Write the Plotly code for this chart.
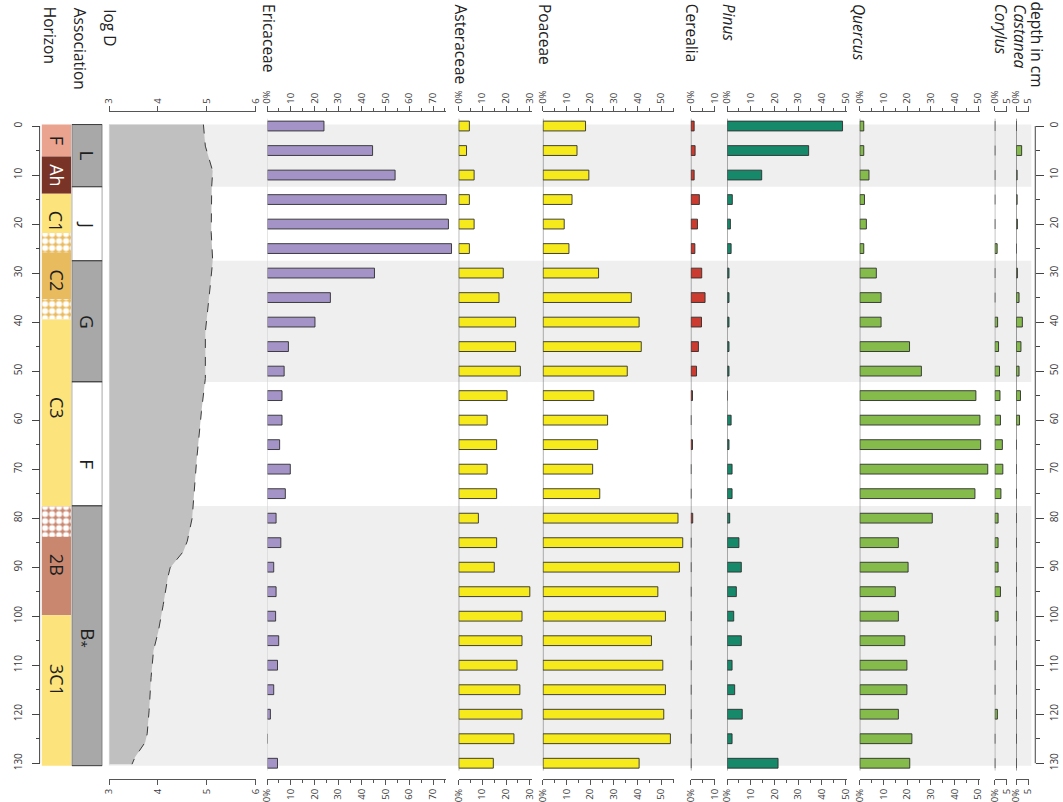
import plotly.graph_objects as go

# ---------------------------------------------------------------- data
depth = [0, 5, 10, 15, 20, 25, 30, 35, 40, 45, 50, 55, 60, 65, 70,
         75, 80, 85, 90, 95, 100, 105, 110, 115, 120, 125, 130]

ericaceae = [24.0, 44.5, 54.0, 75.6, 76.5, 77.8, 45.3, 26.7, 20.2, 9.0, 7.2, 6.3, 6.3, 5.3,
             9.8, 7.7, 3.8, 5.8, 2.8, 3.8, 3.6, 4.9, 4.4, 2.8, 1.4, 0.0, 4.4]
asteraceae = [4.5, 3.3, 6.5, 4.5, 6.5, 4.5, 18.8, 17.0, 24.0, 24.0, 26.0, 20.4, 12.0, 16.0,
              12.0, 16.0, 8.3, 16.0, 15.0, 30.0, 26.7, 26.7, 24.6, 25.8, 26.7, 23.3, 14.6]
poaceae = [18.0, 14.4, 19.4, 12.3, 9.0, 11.0, 23.5, 37.3, 40.6, 41.5, 35.6, 21.5, 27.3, 23.1,
           21.0, 24.0, 57.0, 59.0, 57.6, 48.5, 51.7, 45.8, 50.6, 51.7, 51.0, 53.8, 40.6]
cerealia = [1.4, 1.8, 1.4, 3.6, 2.8, 1.7, 4.6, 6.0, 4.5, 3.2, 2.4, 0.7, 0.0, 0.7,
            0.0, 0.0, 0.8, 0.0, 0.0, 0.0, 0.0, 0.0, 0.0, 0.0, 0.0, 0.0, 0.0]
pinus = [48.7, 34.4, 14.6, 2.2, 1.4, 1.7, 0.8, 0.8, 0.8, 0.8, 0.8, 0.0, 1.7, 0.8,
         2.1, 2.1, 1.1, 5.0, 6.0, 3.9, 2.8, 6.0, 2.1, 3.2, 6.4, 2.1, 21.5]
quercus = [1.7, 1.7, 3.9, 2.0, 2.8, 1.7, 7.0, 9.0, 9.0, 21.0, 26.0, 49.0, 50.7, 51.0,
           54.0, 48.6, 30.6, 16.3, 20.4, 15.0, 16.3, 19.0, 19.9, 19.9, 16.3, 22.0, 21.1]
corylus = [0.0, 0.0, 0.0, 0.0, 0.0, 1.0, 0.0, 0.0, 1.2, 1.6, 2.0, 2.2, 2.4, 3.2,
           3.4, 2.6, 1.4, 1.4, 1.4, 2.4, 1.4, 0.0, 0.0, 0.0, 1.1, 0.0, 0.0]
castanea = [0.0, 2.3, 0.4, 0.4, 0.5, 0.0, 0.5, 1.2, 2.6, 2.0, 1.2, 1.8, 1.4, 0.0,
            0.0, 0.0, 0.0, 0.0, 0.0, 0.0, 0.0, 0.0, 0.0, 0.0, 0.0, 0.0, 0.0]

logd_depth = [-0.3, 4.1, 9.2, 12.3, 21.7, 27.5, 32.6, 37.9, 42.0, 51.5, 58.2, 68.4, 73.2,
              80.0, 84.7, 86.8, 90.1, 92.2, 97.6, 103.0, 107.0, 112.5, 119.2, 124.0,
              125.7, 128.8, 130.2]
logd_value = [4.93, 4.97, 5.12, 5.10, 5.09, 5.12, 5.07, 5.01, 4.97, 4.97, 4.89, 4.79, 4.75,
              4.70, 4.60, 4.52, 4.25, 4.20, 4.11, 4.01, 3.91, 3.86, 3.82, 3.78,
              3.74, 3.53, 3.47]

horizon_names = ["F", "Ah", "C1", "C2", "C3", "2B", "3C1"]
horizon_top = [-0.3, 6.2, 13.8, 21.8, 39.4, 77.6, 99.8]
horizon_bottom = [6.2, 13.8, 21.8, 39.4, 77.6, 99.8, 130.5]
horizon_label_depth = [3.0, 10.0, 19.5, 31.5, 57.5, 89.5, 113.0]
stone_top = [21.8, 35.3, 77.6]
stone_bottom = [25.8, 39.4, 83.8]

assoc_names = ["L", "J", "G", "F", "B<sub>*</sub>"]
assoc_top = [-0.3, 12.4, 27.5, 52.2, 77.5]
assoc_bottom = [12.4, 27.5, 52.2, 77.5, 130.5]
assoc_label_depth = [6.0, 20.0, 40.0, 69.0, 104.5]
assoc_grey = [True, False, True, False, True]

# ---------------------------------------------------------------- geometry helpers
W, H = 1063, 802
FONT = "Open Sans"


def fx(p):
    return p / W


def fy(p):
    return 1 - p / H


Y_TOP_PX, Y_BOT_PX = 112, 782
D0_PX, PX_PER_CM = 126.5, 4.92
depth_range = [(Y_BOT_PX - D0_PX) / PX_PER_CM, (Y_TOP_PX - D0_PX) / PX_PER_CM]
ydom = [fy(Y_BOT_PX), fy(Y_TOP_PX)]
PX_PER_PCT = 2.4
TICK_ANGLE = -90

fig = go.Figure()
layout = {}
shapes = []
annotations = []
_n = [0]


def new_x(dom_px, rng, **kw):
    _n[0] += 1
    n = _n[0]
    key = "xaxis" if n == 1 else f"xaxis{n}"
    ref = "x" if n == 1 else f"x{n}"
    d = dict(domain=[fx(dom_px[0]), fx(dom_px[1])], range=rng, anchor="y",
             fixedrange=True, showgrid=False, zeroline=False)
    d.update(kw)
    layout[key] = d
    return ref


def hidden_x(dom_px, rng):
    return new_x(dom_px, rng, visible=False)


AX_COL = "#555555"


def scale_axes(dom_px, rng, tickvals, ticktext, minor_dtick=None):
    for side in ("top", "bottom"):
        kw = dict(side=side, showline=True, linecolor=AX_COL, linewidth=1,
                  ticks="outside", ticklen=5, tickcolor=AX_COL, tickwidth=1,
                  tickmode="array", tickvals=tickvals, ticktext=ticktext,
                  tickangle=TICK_ANGLE, tickfont=dict(size=9.5, color="#3a3a3a", family=FONT))
        if minor_dtick:
            kw["minor"] = dict(ticks="outside", ticklen=3, tickcolor=AX_COL,
                               tickmode="linear", tick0=0, dtick=minor_dtick)
        ref = new_x(dom_px, rng, **kw)
        fig.add_trace(go.Scatter(x=[], y=[], xaxis=ref, yaxis="y",
                                 showlegend=False, hoverinfo="skip"))


# ---------------------------------------------------------------- zone shading
for t, b, g in zip(assoc_top, assoc_bottom, assoc_grey):
    if g:
        shapes.append(dict(type="rect", xref="paper", yref="y", x0=fx(103), x1=fx(1037),
                           y0=t, y1=b, fillcolor="#efefef", line=dict(width=0), layer="below"))

# ---------------------------------------------------------------- horizon column
hx = hidden_x((35, 65), [0, 1])
horizon_colors = ["#eaa38f", "#7a3427", "#fde37c", "#e9bb5f", "#fde37c", "#c98770", "#fde37c"]
fig.add_trace(go.Bar(
    x=[0.5] * len(horizon_names), y=[b - t for t, b in zip(horizon_top, horizon_bottom)],
    base=horizon_top, width=1, xaxis=hx, yaxis="y",
    marker=dict(color=horizon_colors, line=dict(width=0)),
    showlegend=False, hoverinfo="skip"))
fig.add_trace(go.Bar(
    x=[0.5] * len(stone_top), y=[b - t for t, b in zip(stone_top, stone_bottom)],
    base=stone_top, width=1, xaxis=hx, yaxis="y",
    marker=dict(color="white", line=dict(width=0),
                pattern=dict(shape=".", fillmode="replace", size=7, solidity=0.6,
                             bgcolor="rgba(0,0,0,0)")),
    showlegend=False, hoverinfo="skip"))
for name, d in zip(horizon_names, horizon_label_depth):
    annotations.append(dict(text=name, xref="paper", yref="y", x=fx(50.5), y=d,
                            xanchor="center", yanchor="middle",
                            textangle=90, showarrow=False,
                            font=dict(size=18, family=FONT,
                                      color="white" if name == "Ah" else "#1e1e1e")))

# ---------------------------------------------------------------- association column
ax_ = hidden_x((65.5, 96.5), [0, 1])
fig.add_trace(go.Bar(
    x=[0.5] * len(assoc_names), y=[b - t for t, b in zip(assoc_top, assoc_bottom)],
    base=assoc_top, width=1, xaxis=ax_, yaxis="y",
    marker=dict(color=["#a8a8a8" if g else "white" for g in assoc_grey],
                line=dict(width=1, color="#3a3a3a")),
    showlegend=False, hoverinfo="skip"))
for name, d in zip(assoc_names, assoc_label_depth):
    annotations.append(dict(text=name, xref="paper", yref="y", x=fx(81), y=d,
                            xanchor="center", yanchor="middle",
                            textangle=90, showarrow=False,
                            font=dict(size=19, family=FONT, color="#1e1e1e")))

# ---------------------------------------------------------------- log D panel
LOG_DOM = (103.3, 251.8)
lx = hidden_x(LOG_DOM, [3, 6])
fig.add_trace(go.Scatter(
    x=logd_value, y=logd_depth, xaxis=lx, yaxis="y", mode="lines", fill="tozerox",
    fillcolor="#c0c0c0", line=dict(color="#3c3c3c", width=1, dash="dash"),
    showlegend=False, hoverinfo="skip"))
shapes.append(dict(type="line", xref=lx, yref="y", x0=3, x1=3, y0=-0.3, y1=130.2,
                   line=dict(color="#d6d6d6", width=1.5)))
scale_axes(LOG_DOM, [3, 6], [3, 4, 5, 6], ["3", "4", "5", "6"])

# ---------------------------------------------------------------- pollen panels
panels = [
    # name, values, x0 px, data span %, axis span %, ticks, minor, color, baseline colour
    ("Ericaceae", ericaceae, 263.3, 79, 75.5, [0, 10, 20, 30, 40, 50, 60, 70], 5, "#a493c6", "#cfcfcf"),
    ("Asteraceae", asteraceae, 457.3, 34, 31, [0, 10, 20, 30], 5, "#f6ea1c", "#666666"),
    ("Poaceae", poaceae, 542.5, 61, 55.2, [0, 10, 20, 30, 40, 50], 5, "#f6ea1c", "#555555"),
    ("Cerealia", cerealia, 692.3, 14, 10.2, [0, 10], 5, "#cc3b2f", "#555555"),
    ("Pinus", pinus, 729.0, 52, 50.4, [0, 10, 20, 30, 40, 50], 5, "#15896a", "#666666"),
    ("Quercus", quercus, 863.3, 56, 50.7, [0, 10, 20, 30, 40, 50], 5, "#84bb4a", "#555555"),
    ("Corylus", corylus, 1000.0, 8, 5.2, [0, 5], None, "#84bb4a", "#777777"),
    ("Castanea", castanea, 1021.7, 6, 5.2, [0, 5], None, "#84bb4a", "#555555"),
]

last_ref = None
for name, vals, x0, span, axspan, ticks, minor, color, basecol in panels:
    ref = hidden_x((x0, x0 + span * PX_PER_PCT), [0, span])
    shapes.append(dict(type="line", xref=ref, yref="y", x0=0, x1=0, y0=-1.5, y1=131.5,
                       line=dict(color=basecol, width=1)))
    fig.add_trace(go.Bar(
        y=depth, x=vals, orientation="h", width=2.0, xaxis=ref, yaxis="y",
        marker=dict(color=color, line=dict(color="#2e2e2e", width=0.9)),
        showlegend=False, hoverinfo="skip"))
    ticktext = ["0%"] + [str(t) for t in ticks[1:]]
    scale_axes((x0, x0 + axspan * PX_PER_PCT), [0, axspan], ticks, ticktext, minor)
    last_ref = ref

# ---------------------------------------------------------------- depth axes
depth_axis = dict(domain=ydom, range=depth_range, anchor="free", fixedrange=True,
                  showgrid=False, zeroline=False, showline=False,
                  tickmode="linear", tick0=0, dtick=10, ticks="outside", ticklen=8,
                  tickcolor="#444444", tickangle=TICK_ANGLE,
                  tickfont=dict(size=10, color="#3a3a3a", family=FONT),
                  minor=dict(ticks="outside", ticklen=4, tickcolor="#444444",
                             tickmode="linear", tick0=0, dtick=5))
layout["yaxis"] = dict(depth_axis, position=fx(33), side="left", ticklabelstandoff=6)
layout["yaxis2"] = dict(depth_axis, position=fx(1041), side="right",
                        overlaying="y", matches="y", ticklabelstandoff=2)
fig.add_trace(go.Scatter(x=[], y=[], xaxis=last_ref, yaxis="y2",
                         showlegend=False, hoverinfo="skip"))
for xpx in (33, 1041):
    shapes.append(dict(type="line", xref="paper", yref="y", x0=fx(xpx), x1=fx(xpx),
                       y0=0, y1=130, line=dict(color="#444444", width=1)))

# ---------------------------------------------------------------- column headers
headers = [
    ("Horizon", 30, 5), ("Association", 61, 6), ("log D", 91, 8),
    ("Ericaceae", 252, 2), ("Asteraceae", 446, 2), ("Poaceae", 531, 2),
    ("Cerealia", 680, 2), ("<i>Pinus</i>", 718, 2), ("<i>Quercus</i>", 849, 2),
    ("<i>Corylus</i>", 993, 2), ("<i>Castanea</i>", 1012, 2), ("depth in cm", 1030, 0),
]
for text, xpx, ypx in headers:
    annotations.append(dict(text=text, xref="paper", yref="paper", x=fx(xpx), y=fy(ypx),
                            xanchor="left", yanchor="top", textangle=90, showarrow=False,
                            font=dict(size=15.5, family=FONT, color="#222222")))

fig.update_layout(
    width=W, height=H, margin=dict(l=0, r=0, t=0, b=0),
    paper_bgcolor="white", plot_bgcolor="rgba(0,0,0,0)",
    showlegend=False, barmode="overlay", font=dict(family=FONT),
    shapes=shapes, annotations=annotations, **layout)

fig.write_html("out.html")
